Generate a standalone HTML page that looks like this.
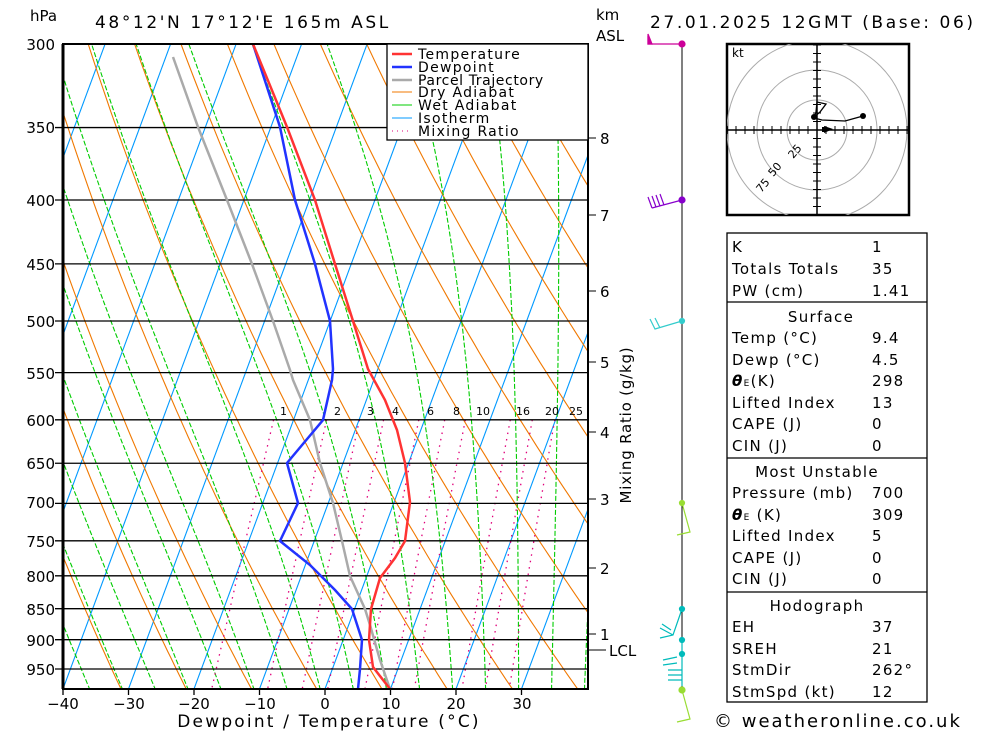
<!DOCTYPE html>
<html><head><meta charset="utf-8"><style>
body{margin:0;background:#fff;width:1000px;height:733px;overflow:hidden}
svg{display:block}
text{font-family:"DejaVu Sans","Liberation Sans",sans-serif;fill:#000}
.w{letter-spacing:1.3px}
</style></head><body>
<svg id="s" width="1000" height="733" viewBox="0 0 1000 733" xmlns="http://www.w3.org/2000/svg">
<defs><clipPath id="c"><rect x="63" y="44" width="525" height="645"/></clipPath>
<clipPath id="hc"><rect x="727" y="44" width="182" height="171"/></clipPath></defs>
<g id="bg" clip-path="url(#c)"></g>
<g stroke="#000" stroke-width="1.3" id="iso"></g>
<g clip-path="url(#c)" fill="none" stroke-width="2.5">
<polyline stroke="#aaa" points="173,57 198,127 227,200 252,264 273,321 290,370 293,380 310,420 320,463 333,503 342,541 350,576 365,609 370,625 380,660 390,689"/>
<polyline stroke="#2233ff" points="253,44 280,127 295,200 315,264 330,321 333,369 332,380 323,420 287,463 298,503 280,541 310,565 335,590 352,609 362,640 360,669 358,689"/>
<polyline stroke="#ff3333" points="253,44 287,127 315,200 335,264 353,321 368,369 385,400 397,430 405,463 410,502 405,541 395,558 380,578 371,609 369,640 373,667 390,689"/>
</g>
<g font-size="11">
<text x="280" y="415" fill="#e0007a">1</text><text x="334" y="415" fill="#e0007a">2</text><text x="367" y="415" fill="#e0007a">3</text><text x="392" y="415" fill="#e0007a">4</text><text x="427" y="415" fill="#e0007a">6</text><text x="453" y="415" fill="#e0007a">8</text><text x="476" y="415" fill="#e0007a">10</text><text x="516" y="415" fill="#e0007a">16</text><text x="545" y="415" fill="#e0007a">20</text><text x="569" y="415" fill="#e0007a">25</text>
</g>
<rect x="63" y="44" width="525" height="645" fill="none" stroke="#000" stroke-width="2"/>
<line x1="63" y1="44" x2="63" y2="689" stroke="#000" stroke-width="3"/>
<rect x="387" y="44" width="201" height="96" fill="#fff" stroke="#000" stroke-width="1.3"/>
<g font-size="14" class="w">
<line x1="392" y1="54" x2="412" y2="54" stroke="#ff3333" stroke-width="2.5"/><text x="418" y="59">Temperature</text>
<line x1="392" y1="67" x2="412" y2="67" stroke="#2233ff" stroke-width="2.5"/><text x="418" y="72">Dewpoint</text>
<line x1="392" y1="80" x2="412" y2="80" stroke="#aaa" stroke-width="2.5"/><text x="418" y="85" letter-spacing="0.6">Parcel Trajectory</text>
<line x1="392" y1="92" x2="412" y2="92" stroke="#f07800"/><text x="418" y="97">Dry Adiabat</text>
<line x1="392" y1="105" x2="412" y2="105" stroke="#00cc00"/><text x="418" y="110">Wet Adiabat</text>
<line x1="392" y1="118" x2="412" y2="118" stroke="#0099ff"/><text x="418" y="123">Isotherm</text>
<line x1="392" y1="131" x2="412" y2="131" stroke="#e0007a" stroke-dasharray="1,4"/><text x="418" y="136">Mixing Ratio</text>
</g>
<g font-size="15">
<text x="30" y="21">hPa</text>
<text x="95" y="28" font-size="17" letter-spacing="2.6">48°12'N  17°12'E  165m  ASL</text>
<text x="596" y="20">km</text><text x="596" y="41">ASL</text>
<text x="650" y="28" font-size="17" letter-spacing="2.6">27.01.2025  12GMT  (Base: 06)</text>
<g text-anchor="end">
<text x="55" y="50">300</text><text x="55" y="133">350</text><text x="55" y="206">400</text><text x="55" y="270">450</text><text x="55" y="327">500</text><text x="55" y="379">550</text><text x="55" y="426">600</text><text x="55" y="469">650</text><text x="55" y="508">700</text><text x="55" y="547">750</text><text x="55" y="582">800</text><text x="55" y="615">850</text><text x="55" y="646">900</text><text x="55" y="675">950</text>
</g>
<g text-anchor="middle">
<text x="63" y="709">−40</text><text x="129" y="709">−30</text><text x="194" y="709">−20</text><text x="260" y="709">−10</text><text x="325" y="709">0</text><text x="391" y="709">10</text><text x="456" y="709">20</text><text x="522" y="709">30</text>
</g>
<text x="329" y="727" text-anchor="middle" font-size="17" letter-spacing="2.2">Dewpoint / Temperature (°C)</text>
<text x="600" y="144">8</text><text x="600" y="221">7</text><text x="600" y="297">6</text><text x="600" y="368">5</text><text x="600" y="438">4</text><text x="600" y="505">3</text><text x="600" y="574">2</text><text x="600" y="640">1</text><text x="609" y="656">LCL</text>
<text transform="translate(631,425) rotate(-90)" text-anchor="middle" letter-spacing="0.8">Mixing Ratio (g/kg)</text>
</g>
<g stroke="#000"><line x1="588" y1="138" x2="596" y2="138"/><line x1="588" y1="215" x2="596" y2="215"/><line x1="588" y1="291" x2="596" y2="291"/><line x1="588" y1="362" x2="596" y2="362"/><line x1="588" y1="432" x2="596" y2="432"/><line x1="588" y1="499" x2="596" y2="499"/><line x1="588" y1="568" x2="596" y2="568"/><line x1="588" y1="634" x2="596" y2="634"/><line x1="588" y1="650" x2="606" y2="650"/></g>
<line x1="682" y1="44" x2="682" y2="689" stroke="#000"/>
<g fill="none" stroke-width="1.2">
<polyline stroke="#cc0099" points="682,44 648,44 648,36"/><polygon fill="#cc0099" stroke="#cc0099" points="648,44 648,34 652,44"/><circle cx="682" cy="44" r="3" fill="#cc0099" stroke="#cc0099"/>
<path stroke="#8800cc" d="M682,200 L652,208 M652,208 L648,197 M656,207 L652,196 M660,206 L656,195 M664,205 L660,194"/><circle cx="682" cy="200" r="3" fill="#8800cc" stroke="#8800cc"/>
<path stroke="#33cccc" d="M682,321 L655,329 L650,319 M660,328 L655,318"/><circle cx="682" cy="321" r="2.5" fill="#33cccc" stroke="#33cccc"/>
<path stroke="#99dd33" d="M682,503 L690,532 L677,535"/><circle cx="682" cy="503" r="2.5" fill="#99dd33" stroke="#99dd33"/>
<path stroke="#00bbbb" d="M682,609 L673,635 L660,638 M673,635 L660,628 M671,630 L662,624"/><circle cx="682" cy="609" r="2.5" fill="#00bbbb" stroke="#00bbbb"/>
<path stroke="#00bbbb" d="M682,640 L682,686 M682,670 L668,670 M682,675 L668,675 M682,680 L668,680 M677,663 L663,665 M677,657 L663,660"/><circle cx="682" cy="640" r="2.5" fill="#00bbbb" stroke="#00bbbb"/><circle cx="682" cy="654" r="2.5" fill="#00bbbb" stroke="#00bbbb"/>
<path stroke="#99dd33" d="M682,690 L690,719 L677,722"/><circle cx="682" cy="690" r="3" fill="#99dd33" stroke="#99dd33"/>
</g>
<rect x="727" y="44" width="182" height="171" fill="#fff" stroke="#000" stroke-width="2.5"/>
<g clip-path="url(#hc)" fill="none" stroke="#aaa">
<circle cx="817" cy="130" r="30"/><circle cx="817" cy="130" r="60"/><circle cx="817" cy="130" r="90"/>
</g>
<g stroke="#000" id="hticks"><line x1="727" y1="130" x2="909" y2="130" stroke-width="1.5"/><line x1="817" y1="44" x2="817" y2="215" stroke-width="1.5"/></g>
<g font-size="11"><text x="756" y="190" transform="rotate(-50 762 186)" fill="#aaa">75</text><text x="768" y="174" transform="rotate(-50 774 170)" fill="#aaa">50</text><text x="788" y="156" transform="rotate(-50 794 152)" fill="#aaa">25</text></g>
<text x="732" y="57" font-size="12">kt</text>
<g fill="none" stroke="#000" stroke-width="1.3"><polyline points="814,117 820,112 826,104 817,102 816,112 814,118 822,120 845,121 863,116"/></g>
<circle cx="814" cy="117" r="3"/><circle cx="863" cy="116" r="3"/><polygon points="824,126 833,129 824,133"/><rect x="822" y="127" width="4" height="5"/>
<g fill="none" stroke="#000" stroke-width="1.3"><rect x="727" y="233" width="200" height="469"/><line x1="727" y1="302" x2="927" y2="302"/><line x1="727" y1="458" x2="927" y2="458"/><line x1="727" y1="592" x2="927" y2="592"/></g>
<g font-size="15" class="w">
<text x="732" y="252">K</text><text x="872" y="252">1</text>
<text x="732" y="274">Totals Totals</text><text x="872" y="274">35</text>
<text x="732" y="296">PW (cm)</text><text x="872" y="296">1.41</text>
<text x="821" y="322" text-anchor="middle">Surface</text>
<text x="732" y="343">Temp (°C)</text><text x="872" y="343">9.4</text>
<text x="732" y="365">Dewp (°C)</text><text x="872" y="365">4.5</text>
<text x="732" y="386"><tspan font-weight="bold" font-style="italic">θ</tspan><tspan font-size="9">E</tspan>(K)</text><text x="872" y="386">298</text>
<text x="732" y="408">Lifted Index</text><text x="872" y="408">13</text>
<text x="732" y="429">CAPE (J)</text><text x="872" y="429">0</text>
<text x="732" y="451">CIN (J)</text><text x="872" y="451">0</text>
<text x="817" y="477" text-anchor="middle">Most Unstable</text>
<text x="732" y="498">Pressure (mb)</text><text x="872" y="498">700</text>
<text x="732" y="520"><tspan font-weight="bold" font-style="italic">θ</tspan><tspan font-size="9">E</tspan> (K)</text><text x="872" y="520">309</text>
<text x="732" y="541">Lifted Index</text><text x="872" y="541">5</text>
<text x="732" y="563">CAPE (J)</text><text x="872" y="563">0</text>
<text x="732" y="584">CIN (J)</text><text x="872" y="584">0</text>
<text x="817" y="611" text-anchor="middle">Hodograph</text>
<text x="732" y="632">EH</text><text x="872" y="632">37</text>
<text x="732" y="654">SREH</text><text x="872" y="654">21</text>
<text x="732" y="675">StmDir</text><text x="872" y="675">262°</text>
<text x="732" y="697">StmSpd (kt)</text><text x="872" y="697">12</text>
<text x="714" y="727" font-size="18" letter-spacing="2">© weatheronline.co.uk</text>
</g>
</svg>
<script>
(function(){
var NS="http://www.w3.org/2000/svg",bg=document.getElementById("bg");
function Y(p){return 44+542.2*Math.log(p/300);}
function X(T,p){return 325+6.55*T+0.37*(689-Y(p));}
function line(pts,col,w,dash){var e=document.createElementNS(NS,"polyline");
e.setAttribute("points",pts.map(function(a){return a[0].toFixed(1)+","+a[1].toFixed(1)}).join(" "));
e.setAttribute("fill","none");e.setAttribute("stroke",col);e.setAttribute("stroke-width",w||1);
if(dash)e.setAttribute("stroke-dasharray",dash);bg.appendChild(e);}
var ps=[];for(var p=250;p<=1010;p+=10)ps.push(p);
for(var T=-130;T<=50;T+=10){line([[X(T,250),Y(250)],[X(T,1010),Y(1010)]],"#0099ff",1.1);}
for(var th=203;th<=503;th+=10){line(ps.map(function(p){var t=th*Math.pow(p/1000,0.286)-273.15;return [X(t,p),Y(p)];}),"#f07800",1.1);}
function es(t){return 6.112*Math.exp(17.67*t/(t+243.5));}
for(var T0=-45;T0<=45;T0+=5){var t=T0,pts2=[];
 for(var p=1000;p>=250;p-=5){pts2.push([X(t,p),Y(p)]);var TK=t+273.15,e=es(t),rs=0.622*e/(p-e),L=2.5e6;
  var dTdp=(287*TK+L*rs)/(p*(1004+L*L*rs*0.622/(287*TK*TK)));t-=dTdp*5;}
 line(pts2,"#00cc00",1.1,"5,2");}
[1,2,3,4,6,8,10,16,20,25].forEach(function(w){var pts=[];for(var p=600;p<=1000;p+=10){var e=w*p/(622+w),l=Math.log(e/6.112),td=243.5*l/(17.67-l);pts.push([X(td,p),Y(p)]);}line(pts,"#e0007a",1.3,"1.5,5");});
var iso=document.getElementById("iso");
[350,400,450,500,550,600,650,700,750,800,850,900,950].forEach(function(p){var l=document.createElementNS(NS,"line");l.setAttribute("x1",55);l.setAttribute("x2",588);l.setAttribute("y1",Y(p));l.setAttribute("y2",Y(p));iso.appendChild(l);});
[-40,-30,-20,-10,0,10,20,30].forEach(function(t){var x=325+6.55*t;var l=document.createElementNS(NS,"line");l.setAttribute("x1",x);l.setAttribute("x2",x);l.setAttribute("y1",689);l.setAttribute("y2",695);iso.appendChild(l);});
var ht=document.getElementById("hticks");
for(var i=-10;i<=10;i++){if(!i)continue;var a=document.createElementNS(NS,"line");a.setAttribute("x1",817+i*9);a.setAttribute("x2",817+i*9);a.setAttribute("y1",126);a.setAttribute("y2",134);ht.appendChild(a);
var b=document.createElementNS(NS,"line");b.setAttribute("y1",130+i*8.5);b.setAttribute("y2",130+i*8.5);b.setAttribute("x1",813);b.setAttribute("x2",821);ht.appendChild(b);}
})();
</script>
</body></html>
